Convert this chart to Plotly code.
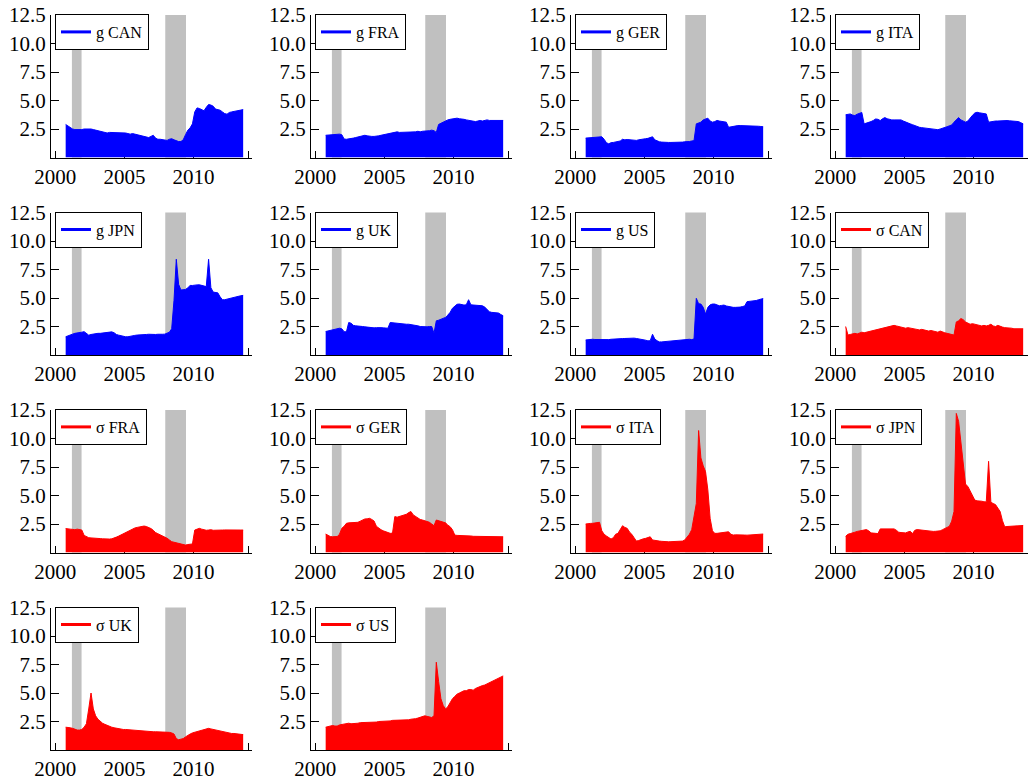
import pandas as pd
import plotly.graph_objects as go

# ---------------- data ----------------
# bimonthly observations, Oct 2000 .. Aug 2013
months = pd.date_range("2000-10-01", "2013-08-01", freq="2MS")
t = list(months.year + (months.month - 1) / 12.0)

rec_start = [2001.2, 2007.95]
rec_end = [2001.9, 2009.45]

g_can = [2.9, 2.75,
         2.6, 2.5, 2.45, 2.45, 2.4, 2.45,
         2.5, 2.5, 2.55, 2.5, 2.45, 2.4,
         2.3, 2.25, 2.2, 2.15, 2.15, 2.2,
         2.2, 2.15, 2.15, 2.2, 2.15, 2.15,
         2.15, 2.1, 2.05, 2.1, 2.05, 2.0,
         2.0, 1.95, 1.85, 1.8, 1.75, 1.85,
         1.95, 1.7, 1.6, 1.6, 1.55, 1.5,
         1.5, 1.6, 1.65, 1.55, 1.45, 1.4,
         1.4, 1.55, 2.0, 2.4, 2.6, 2.95,
         4.0, 4.35, 4.3, 4.2, 4.1, 4.4,
         4.65, 4.6, 4.5, 4.25, 4.2, 4.15,
         4.0, 3.85, 3.8, 3.95, 4.0, 4.05,
         4.1, 4.1, 4.15, 4.2]
g_fra = [1.95, 1.97,
         1.95, 1.95, 2.0, 2.0, 2.05, 2.0,
         1.62, 1.6, 1.62, 1.65, 1.7, 1.75,
         1.8, 1.85, 1.95, 1.95, 1.9, 1.85,
         1.85, 1.85, 1.85, 1.9, 1.95, 2.0,
         2.05, 2.1, 2.1, 2.15, 2.2, 2.25,
         2.2, 2.2, 2.2, 2.25, 2.2, 2.25,
         2.25, 2.25, 2.3, 2.25, 2.3, 2.3,
         2.3, 2.35, 2.4, 2.35, 2.2, 2.9,
         3.0, 3.1, 3.25, 3.3, 3.35, 3.4,
         3.4, 3.45, 3.4, 3.4, 3.35, 3.3,
         3.25, 3.2, 3.2, 3.15, 3.2, 3.25,
         3.2, 3.25, 3.3, 3.25, 3.25, 3.3,
         3.25, 3.25, 3.25, 3.25]
g_ger = [1.7, 1.72,
         1.72, 1.75, 1.75, 1.78, 1.85, 1.82,
         1.6, 1.3, 1.2, 1.3, 1.32, 1.35,
         1.38, 1.45, 1.6, 1.55, 1.58, 1.55,
         1.5, 1.47, 1.5, 1.55, 1.6, 1.62,
         1.65, 1.68, 1.75, 1.82, 1.55, 1.45,
         1.38, 1.35, 1.32, 1.3, 1.32, 1.32,
         1.32, 1.3, 1.32, 1.35, 1.35, 1.38,
         1.38, 1.4, 1.45, 1.48, 2.95, 3.05,
         3.1, 3.3, 3.35, 3.45, 3.2, 3.1,
         3.15, 3.25, 3.2, 3.15, 3.15, 3.1,
         2.65, 2.7, 2.72, 2.75, 2.8, 2.8,
         2.8, 2.8, 2.78, 2.8, 2.78, 2.76,
         2.75, 2.74, 2.72, 2.7]
g_ita = [3.75, 3.8,
         3.82, 3.72, 3.68, 3.8, 3.88, 3.95,
         2.95, 3.0, 3.1, 3.15, 3.25, 3.38,
         3.35, 3.24, 3.4, 3.5, 3.4, 3.32,
         3.3, 3.3, 3.32, 3.3, 3.3, 3.2,
         3.1, 3.0, 2.95, 2.88, 2.8, 2.7,
         2.65, 2.62, 2.6, 2.58, 2.55, 2.52,
         2.5, 2.45, 2.44, 2.5, 2.55, 2.65,
         2.7, 2.78, 2.85, 3.1, 3.3, 3.5,
         3.3, 3.2, 3.1, 3.2, 3.5, 3.7,
         3.9, 3.97, 3.92, 3.9, 3.85, 3.82,
         3.1, 3.15, 3.18, 3.2, 3.2, 3.22,
         3.22, 3.24, 3.24, 3.22, 3.2, 3.18,
         3.18, 3.15, 3.05, 2.95]
g_jpn = [1.6, 1.7,
         1.75, 1.83, 1.9, 1.92, 1.95, 2.0,
         2.05, 1.85, 1.74, 1.8, 1.85, 1.89,
         1.9, 1.9, 1.92, 1.95, 1.95, 2.0,
         2.03, 1.95, 1.8, 1.74, 1.68, 1.65,
         1.6, 1.6, 1.62, 1.68, 1.72, 1.75,
         1.75, 1.78, 1.8, 1.8, 1.82, 1.8,
         1.8, 1.8, 1.82, 1.8, 1.82, 1.83,
         1.9, 2.0, 2.3, 4.8, 8.4, 6.2,
         5.7, 5.7, 5.75, 5.9, 6.1, 6.1,
         6.15, 6.15, 6.16, 6.12, 6.1, 6.0,
         8.4, 5.9, 5.52, 5.5, 5.45, 5.1,
         4.85, 4.85, 4.9, 4.95, 5.0, 5.1,
         5.15, 5.18, 5.2, 5.23]
g_uk = [2.06, 2.1,
        2.15, 2.2, 2.25, 2.3, 2.35, 2.3,
        2.05, 2.03, 2.85, 2.79, 2.6, 2.56,
        2.56, 2.55, 2.5, 2.47, 2.45, 2.4,
        2.35, 2.38, 2.4, 2.42, 2.4, 2.38,
        2.35, 2.35, 2.85, 2.82, 2.8, 2.78,
        2.76, 2.75, 2.72, 2.7, 2.7, 2.68,
        2.65, 2.6, 2.56, 2.5, 2.48, 2.47,
        2.47, 2.5, 2.5, 1.9, 3.0, 3.05,
        3.15, 3.2, 3.3, 3.5, 3.74, 4.1,
        4.32, 4.45, 4.47, 4.4, 4.38, 4.4,
        4.85, 4.4, 4.38, 4.35, 4.33, 4.32,
        4.32, 4.2, 4.03, 3.8, 3.74, 3.72,
        3.7, 3.68, 3.55, 3.44]
g_us = [1.32, 1.35,
        1.38, 1.38, 1.36, 1.35, 1.33, 1.32,
        1.32, 1.33, 1.35, 1.38, 1.38, 1.4,
        1.42, 1.44, 1.44, 1.45, 1.47, 1.5,
        1.5, 1.48, 1.45, 1.42, 1.4, 1.38,
        1.3, 1.24, 1.25, 1.82, 1.4, 1.25,
        1.15, 1.15, 1.17, 1.18, 1.2, 1.22,
        1.25, 1.28, 1.32, 1.32, 1.35, 1.38,
        1.38, 1.38, 1.35, 1.4, 4.97, 4.5,
        4.47, 4.18, 3.59, 4.18, 4.4, 4.47,
        4.47, 4.4, 4.32, 4.35, 4.38, 4.3,
        4.25, 4.2, 4.18, 4.18, 4.18, 4.2,
        4.25, 4.3, 4.68, 4.7, 4.72, 4.75,
        4.78, 4.85, 4.9, 4.95]
s_can = [2.5, 1.75,
         1.8, 1.85, 1.9, 1.85, 1.9, 2.0,
         1.95, 2.0, 2.05, 2.1, 2.15, 2.2,
         2.25, 2.3, 2.35, 2.4, 2.45, 2.5,
         2.55, 2.6, 2.55, 2.5, 2.45, 2.4,
         2.35, 2.4, 2.35, 2.3, 2.3, 2.25,
         2.2, 2.25, 2.2, 2.15, 2.1, 2.15,
         2.1, 2.05, 2.0, 2.1, 2.0, 1.95,
         1.9, 1.85, 1.8, 1.75, 2.9, 3.0,
         3.2, 3.1, 2.9, 2.8, 2.7, 2.75,
         2.7, 2.65, 2.6, 2.55, 2.6, 2.55,
         2.6, 2.7, 2.55, 2.5, 2.6, 2.5,
         2.45, 2.4, 2.4, 2.35, 2.35, 2.3,
         2.3, 2.35, 2.3, 2.3]
s_fra = [2.1, 2.05,
         2.05, 2.03, 2.0, 2.05, 2.0, 1.97,
         1.5, 1.38, 1.3, 1.28, 1.25, 1.24,
         1.24, 1.22, 1.2, 1.18, 1.18, 1.18,
         1.2, 1.25, 1.35, 1.44, 1.55, 1.65,
         1.75, 1.82, 1.95, 2.05, 2.15, 2.2,
         2.26, 2.3, 2.32, 2.28, 2.2, 2.1,
         1.95, 1.75, 1.65, 1.55, 1.45, 1.38,
         1.25, 1.1, 0.95, 0.9, 0.85, 0.8,
         0.75, 0.7, 0.65, 0.7, 0.72, 0.75,
         1.97, 2.05, 2.12, 2.05, 1.97, 1.95,
         1.97, 2.0, 1.95, 1.97, 1.97, 1.95,
         1.97, 1.98, 1.97, 1.97, 1.96, 1.97,
         1.97, 1.97, 1.97, 1.97]
s_ger = [1.62, 1.5,
         1.4, 1.38, 1.38, 1.4, 1.6, 2.12,
         2.3, 2.56, 2.6, 2.6, 2.65, 2.65,
         2.65, 2.75, 2.85, 2.94, 2.95, 3.0,
         2.9, 2.76, 2.3, 2.12, 2.0, 1.9,
         1.82, 1.75, 1.68, 1.7, 3.15, 3.1,
         3.15, 3.2, 3.29, 3.35, 3.5, 3.59,
         3.3, 3.15, 3.0, 2.9, 2.85, 2.8,
         2.7, 2.65, 2.5, 2.35, 2.85, 2.8,
         2.75, 2.7, 2.6, 2.4, 2.26, 2.0,
         1.53, 1.5, 1.5, 1.48, 1.47, 1.47,
         1.47, 1.45, 1.42, 1.42, 1.4, 1.4,
         1.38, 1.38, 1.38, 1.38, 1.38, 1.38,
         1.38, 1.38, 1.38, 1.38]
s_ita = [2.5, 2.55,
         2.55, 2.56, 2.6, 2.62, 2.65, 1.9,
         1.6, 1.45, 1.3, 1.18, 1.3, 1.6,
         1.68, 2.0, 2.35, 2.2, 2.12, 1.8,
         1.6, 1.3, 1.0, 1.05, 1.15, 1.2,
         1.24, 1.3, 1.38, 1.1, 1.05, 1.0,
         1.0, 0.98, 0.95, 0.94, 0.94, 0.95,
         0.95, 0.97, 1.0, 1.0, 1.0, 1.1,
         1.35, 1.6, 2.0, 3.0, 4.3, 10.7,
         8.3, 7.6, 7.1, 5.5, 3.0, 1.9,
         1.68, 1.68, 1.7, 1.72, 1.75, 1.8,
         1.82, 1.6, 1.53, 1.55, 1.53, 1.53,
         1.53, 1.53, 1.52, 1.53, 1.55, 1.58,
         1.6, 1.6, 1.62, 1.62]
s_jpn = [1.42, 1.6,
         1.66, 1.7, 1.78, 1.85, 1.9, 1.95,
         1.98, 2.01, 1.9, 1.72, 1.7, 1.68,
         1.66, 2.07, 2.07, 2.05, 2.07, 2.07,
         2.07, 2.07, 1.95, 1.78, 1.75, 1.72,
         1.72, 1.8, 1.86, 1.66, 1.95, 2.01,
         1.98, 1.95, 1.95, 1.9, 1.86, 1.86,
         1.85, 1.86, 1.86, 1.9, 2.0, 2.07,
         2.2, 2.3, 2.75, 3.6, 12.2, 11.5,
         9.5, 7.8, 6.0, 5.8, 5.4, 5.0,
         4.6, 4.53, 4.53, 4.5, 4.45, 4.44,
         8.0, 4.4, 4.3, 4.2, 3.9, 3.6,
         2.8, 2.25, 2.28, 2.3, 2.3, 2.32,
         2.34, 2.35, 2.36, 2.37]
s_uk = [2.0, 2.0,
        1.95, 1.9, 1.8, 1.75, 1.75, 1.8,
        2.0, 2.3, 3.6, 5.0, 3.6, 3.0,
        2.7, 2.5, 2.35, 2.25, 2.15, 2.05,
        2.0, 1.95, 1.9, 1.85, 1.85, 1.8,
        1.8, 1.78, 1.75, 1.72, 1.7, 1.7,
        1.7, 1.68, 1.65, 1.65, 1.62, 1.6,
        1.6, 1.6, 1.6, 1.58, 1.6, 1.58,
        1.55, 1.55, 1.5, 1.4, 1.0, 0.9,
        0.95, 1.0, 1.15, 1.3, 1.4, 1.5,
        1.55, 1.6, 1.7, 1.75, 1.8, 1.85,
        1.9, 1.85, 1.8, 1.75, 1.7, 1.65,
        1.6, 1.55, 1.5, 1.5, 1.45, 1.45,
        1.42, 1.4, 1.38, 1.35]
s_us = [2.0, 2.05,
        2.1, 2.15, 2.1, 2.1, 2.2, 2.25,
        2.3, 2.3, 2.35, 2.3, 2.3, 2.35,
        2.35, 2.4, 2.4, 2.4, 2.45, 2.45,
        2.4, 2.45, 2.45, 2.5, 2.5, 2.5,
        2.5, 2.55, 2.55, 2.6, 2.6, 2.6,
        2.65, 2.65, 2.6, 2.6, 2.65, 2.7,
        2.7, 2.75, 2.8, 2.85, 2.9, 3.0,
        2.95, 2.9, 2.85, 3.0, 7.7, 6.0,
        4.5, 3.9, 3.6, 3.8, 4.2, 4.5,
        4.7, 4.9, 5.0, 5.1, 5.2, 5.2,
        5.3, 5.3, 5.25, 5.4, 5.5, 5.6,
        5.65, 5.7, 5.8, 5.9, 6.0, 6.1,
        6.2, 6.35, 6.45, 6.5]

labels = ["g CAN", "g FRA", "g GER", "g ITA", "g JPN", "g UK", "g US",
          "σ CAN", "σ FRA", "σ GER", "σ ITA", "σ JPN", "σ UK", "σ US"]
series = [g_can, g_fra, g_ger, g_ita, g_jpn, g_uk, g_us,
          s_can, s_fra, s_ger, s_ita, s_jpn, s_uk, s_us]
colors = ["#0000ff"] * 7 + ["#ff0000"] * 7

x_ticks = [2000, 2005, 2010, 2014]
x_ticktext = ["2000", "2005", "2010", ""]
y_ticks = [2.5, 5.0, 7.5, 10.0, 12.5]
y_ticktext = ["2.5", "5.0", "7.5", "10.0", "12.5"]

for s in series:
    assert len(s) == len(t)

# ---------------- layout ----------------
W, H = 1028, 781
col_left = [51, 311, 571, 831]
row_top = [15, 212.5, 410, 607.5]
pw, ph = 201, 142.5
px_per_year = 13.83
x_lo = 2000 - 4.3 / px_per_year

FONT = "Liberation Serif"
tickfont = dict(family=FONT, size=21, color="black")

fig = go.Figure()
layout = dict(width=W, height=H, margin=dict(l=0, r=0, t=0, b=0),
              paper_bgcolor="white", plot_bgcolor="white",
              font=dict(family=FONT, color="black"),
              template="none", shapes=[])

for i, (lab, vals, col) in enumerate(zip(labels, series, colors)):
    r, c = divmod(i, 4)
    n = i + 1
    xs = "" if n == 1 else str(n)
    l = col_left[c]
    rgt = min(l + pw, W)
    x_hi = x_lo + (rgt - l) / px_per_year
    top = row_top[r]
    bot = top + ph

    layout["xaxis" + xs] = dict(
        domain=[l / W, rgt / W], range=[x_lo, x_hi], anchor="y" + xs,
        showline=True, linecolor="black", linewidth=1, mirror=False,
        ticks="inside", ticklen=7, tickwidth=1, tickcolor="black",
        tickvals=x_ticks, ticktext=x_ticktext, tickfont=tickfont,
        showgrid=False, zeroline=False, layer="below traces", automargin=False)
    layout["yaxis" + xs] = dict(
        domain=[1 - bot / H, 1 - top / H], range=[0, 12.5], anchor="x" + xs,
        showline=True, linecolor="black", linewidth=1, mirror=False,
        ticks="inside", ticklen=8, tickwidth=1, tickcolor="black",
        tickvals=y_ticks, ticktext=y_ticktext, tickfont=tickfont,
        showgrid=False, zeroline=False, layer="below traces", automargin=False)

    for a, b in zip(rec_start, rec_end):
        layout["shapes"].append(dict(
            type="rect", xref="x" + xs, yref="y" + xs + " domain",
            x0=a, x1=b, y0=0, y1=1, fillcolor="#c0c0c0",
            line=dict(width=0), layer="below"))

    leg = "legend" if n == 1 else "legend" + str(n)
    layout[leg] = dict(
        x=(l + 4) / W, y=1 - (top - 1) / H, xanchor="left", yanchor="top",
        bgcolor="white", bordercolor="black", borderwidth=1,
        font=dict(family=FONT, size=16, color="black"),
        itemwidth=30, tracegroupgap=0)

    fig.add_trace(go.Scatter(
        x=t, y=vals, mode="lines", fill="tozeroy", fillcolor=col,
        line=dict(color=col, width=1), showlegend=False,
        xaxis="x" + xs, yaxis="y" + xs, hoverinfo="skip"))
    fig.add_trace(go.Scatter(
        x=[None], y=[None], mode="lines", name=lab,
        line=dict(color=col, width=3), showlegend=True, legend=leg,
        xaxis="x" + xs, yaxis="y" + xs))

fig.update_layout(**layout)
fig.write_html("out.html",
               config={"displayModeBar": False},
               post_script="document.body.style.margin='0';"
                           "document.body.style.overflow='hidden';")
